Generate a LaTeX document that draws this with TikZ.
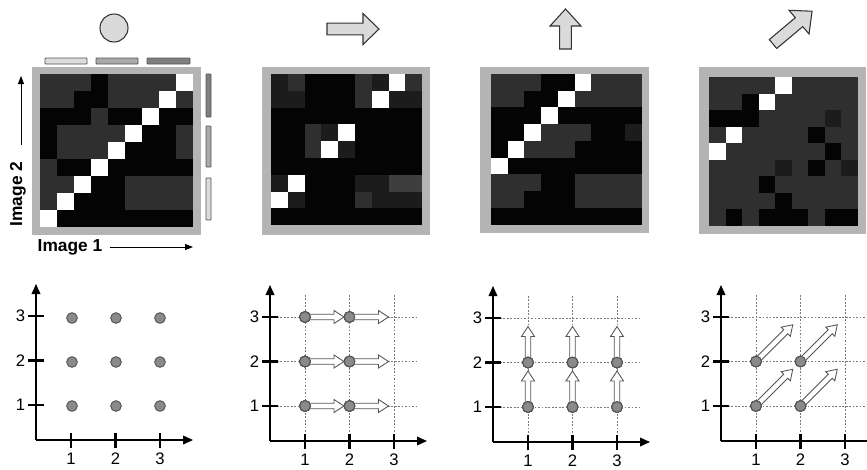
\documentclass[tikz,border=0pt]{standalone}
\usepackage{fontspec}
\setmainfont{Liberation Sans}
\usetikzlibrary{arrows.meta}

% matrix cell shades
\definecolor{mB}{HTML}{040404}
\definecolor{mW}{HTML}{FFFFFF}
\definecolor{mD}{HTML}{2F2F2F}
\definecolor{mK}{HTML}{1C1C1C}
\definecolor{mL}{HTML}{3E3E3E}
\definecolor{framegray}{HTML}{B4B4B4}
\definecolor{iconfill}{HTML}{DADADA}
\definecolor{iconline}{HTML}{333333}
\definecolor{dotfill}{HTML}{8A8A8A}
\definecolor{dotline}{HTML}{555555}
\definecolor{gridgray}{HTML}{7A7A7A}
\definecolor{barlight}{HTML}{DCDCDC}
\definecolor{barmid}{HTML}{A9A9A9}
\definecolor{bardark}{HTML}{7E7E7E}

\tikzset{
  axis/.style={line width=1.1pt, -{Triangle[length=7.5pt,width=6.5pt]}},
  tickmark/.style={line width=1.7pt},
  gridline/.style={gridgray, line width=0.6pt, dash pattern=on 1.3pt off 1.3pt},
  numlab/.style={font=\fontsize{12.5}{14}\selectfont, inner sep=0pt},
  axlabel/.style={font=\fontsize{13}{15}\selectfont\bfseries, inner sep=0pt},
  thinarrow/.style={line width=0.6pt, -{Triangle[length=6pt,width=4.5pt]}},
  dot/.style={circle, fill=dotfill, draw=dotline, line width=0.7pt, minimum size=8pt, inner sep=0pt},
  harrow/.style={draw=dotline, fill=white, line width=0.65pt, line join=miter},
  iconshape/.style={draw=iconline, fill=iconfill, line width=0.8pt, line join=miter},
  bar/.style={draw=dotline, line width=0.6pt, rounded corners=0.6pt},
}

% grid of coloured cells: #1,#2 top-left corner, #3 cell size, #4 rows of shade letters
\newcommand\cellmatrix[4]{%
  \foreach \cellrow [count=\ri from 0] in {#4} {
    \foreach \cellc [count=\ci from 0] in \cellrow {
      \fill[fill=m\cellc] ({#1+\ci*#3},{#2+\ri*#3}) rectangle ++({#3+0.25},{#3+0.25});
    }
  }
}

% hollow outlined arrow starting at a node: #1 node, #2 angle, #3 length
\newcommand\hollowarrow[3]{%
  \begin{scope}[shift={(#1)}, rotate=#2]
    \draw[harrow] (0,-2.8) -- ({#3-10},-2.8) -- ({#3-10},-6.5) -- (#3,0)
      -- ({#3-10},6.5) -- ({#3-10},2.8) -- (0,2.8) -- cycle;
  \end{scope}
}

% filled block arrow: #1 coordinate, #2 angle, #3 length, #4 head length
\newcommand\blockarrow[4]{%
  \begin{scope}[shift={(#1)}, rotate=#2]
    \draw[iconshape] (0,-5.8) -- ({#3-#4},-5.8) -- ({#3-#4},-15.5) -- (#3,0)
      -- ({#3-#4},15.5) -- ({#3-#4},5.8) -- (0,5.8) -- cycle;
  \end{scope}
}

% axes with ticks and numbers: #1 prefix, #2,#3 origin, #4 grid (1) or not (0)
\newcommand\coordplot[4]{%
  \coordinate (#1-o) at (#2,#3);
  \coordinate (#1-xend) at ({#2+157},#3);
  \coordinate (#1-yend) at (#2,{#3-156});
  \ifnum#4=1
    \foreach \dd in {35,79.5,124} {
      \draw[gridline] ({#2+\dd},{#3-146}) -- ({#2+\dd},#3);
      \draw[gridline] (#2,{#3-\dd}) -- ({#2+147},{#3-\dd});
    }
  \fi
  \draw[axis] (#1-o) -- (#1-xend);
  \draw[axis] (#1-o) -- (#1-yend);
  \foreach \k/\dd in {1/35,2/79.5,3/124} {
    \draw[tickmark] ({#2+\dd},{#3-7.5}) -- ({#2+\dd},{#3+7.5});
    \draw[tickmark] ({#2-8},{#3-\dd}) -- ({#2+7.5},{#3-\dd});
    \node[numlab] (#1-xl\k) at ({#2+\dd},{#3+18.5}) {\k};
    \node[numlab] (#1-yl\k) at ({#2-15.5},{#3-\dd}) {\k};
  }
}

\begin{document}
\begin{tikzpicture}[x=0.75pt, y=-0.75pt]
\clip (0,0) rectangle (867,469);
\fill[white] (0,0) rectangle (867,469);

% ---------- matrices ----------
\fill[framegray] (32,67) rectangle (201,235);
\cellmatrix{40}{74}{17}{
  {D,D,D,B,D,D,D,D,W},
  {D,D,B,B,D,D,D,W,D},
  {B,B,B,D,B,B,W,B,B},
  {B,D,D,D,D,W,B,B,D},
  {B,D,D,D,W,B,B,B,D},
  {D,B,B,W,B,B,B,B,B},
  {D,D,W,B,B,D,D,D,D},
  {D,W,B,B,B,D,D,D,D},
  {W,B,B,B,B,B,B,B,B}}

\fill[framegray] (262,67) rectangle (430,235);
\cellmatrix{271}{74}{16.8}{
  {K,D,B,B,B,D,K,W,D},
  {K,K,B,B,B,D,W,K,K},
  {B,B,B,B,B,B,B,B,B},
  {B,B,D,K,W,B,B,B,B},
  {B,B,D,W,K,B,B,B,B},
  {B,B,B,B,B,B,B,B,B},
  {K,W,B,B,B,K,K,L,L},
  {W,K,B,B,B,D,K,K,K},
  {B,B,B,B,B,B,B,B,B}}

\fill[framegray] (480,67) rectangle (649,233);
\cellmatrix{491}{74}{16.7}{
  {D,D,D,B,B,W,D,D,D},
  {D,D,B,B,W,D,D,D,D},
  {B,B,B,W,B,B,B,B,B},
  {B,B,W,D,D,D,B,B,K},
  {B,W,D,D,D,B,B,B,B},
  {W,B,B,B,B,B,B,B,B},
  {D,D,D,B,B,D,D,D,D},
  {D,D,B,B,B,D,D,D,D},
  {B,B,B,B,B,B,B,B,B}}

\fill[framegray] (699,67) rectangle (866,234);
\cellmatrix{709}{77}{16.55}{
  {D,D,D,D,W,D,D,D,D},
  {D,D,B,W,D,D,D,D,D},
  {B,B,B,D,D,D,D,K,D},
  {D,W,D,D,D,D,B,D,D},
  {W,D,D,D,D,D,D,B,D},
  {D,D,D,D,K,D,B,D,K},
  {D,D,D,B,D,D,D,D,D},
  {D,D,D,D,B,D,D,D,D},
  {D,B,D,B,B,B,D,B,B}}

% ---------- bars beside the first matrix ----------
\draw[bar, fill=barlight] (45,58) rectangle (87,64);
\draw[bar, fill=barmid]   (96,58) rectangle (138,64);
\draw[bar, fill=bardark]  (147,58) rectangle (190,64);
\draw[bar, fill=bardark]  (206,74) rectangle (211,117);
\draw[bar, fill=barmid]   (206,126) rectangle (211,167);
\draw[bar, fill=barlight] (206,178) rectangle (211,220);

% ---------- image axis labels ----------
\node[axlabel] (img1) at (70,247) {Image 1};
\coordinate (img1from) at (110,247);
\coordinate (img1to) at (193,247);
\draw[thinarrow] (img1from) -- (img1to);
\node[axlabel, rotate=90] (img2) at (18,194) {Image 2};
\coordinate (img2from) at (21,145);
\coordinate (img2to) at (21,76);
\draw[thinarrow] (img2from) -- (img2to);

% ---------- motion icons ----------
\node[circle, draw=iconline, fill=iconfill, line width=0.8pt, minimum size=21pt, inner sep=0pt] (still) at (114,28) {};
\coordinate (rightstart) at (327,29);
\blockarrow{rightstart}{0}{52}{16}
\coordinate (upstart) at (565.5,49);
\blockarrow{upstart}{90}{40}{17}
\coordinate (diagstart) at (773,44);
\blockarrow{diagstart}{40}{51}{17}

% ---------- coordinate plots ----------
\coordplot{a}{36}{440}{0}
\foreach \i/\xx in {1/72,2/116,3/160}
  \foreach \j/\yy in {1/406,2/362,3/318}
    \node[dot] (a-d\i\j) at (\xx,\yy) {};

\coordplot{b}{270}{441}{1}
\foreach \i/\xx in {1/305,2/349.5}
  \foreach \j/\yy in {1/406,2/361.5,3/317} {
    \node[dot] (b-d\i\j) at (\xx,\yy) {};
  }
\foreach \i in {1,2}
  \foreach \j in {1,2,3}
    \hollowarrow{b-d\i\j}{0}{39}
\foreach \i in {1,2}
  \foreach \j in {1,2,3}
    \node[dot] at (b-d\i\j) {};

\coordplot{c}{493}{442}{1}
\foreach \i/\xx in {1/528,2/572.5,3/617}
  \foreach \j/\yy in {1/407,2/362.5} {
    \node[dot] (c-d\i\j) at (\xx,\yy) {};
  }
\foreach \i in {1,2,3}
  \foreach \j in {1,2}
    \hollowarrow{c-d\i\j}{90}{36}
\foreach \i in {1,2,3}
  \foreach \j in {1,2}
    \node[dot] at (c-d\i\j) {};

\coordplot{d}{721}{441}{1}
\foreach \i/\xx in {1/756,2/800.5}
  \foreach \j/\yy in {1/406,2/361.5} {
    \node[dot] (d-d\i\j) at (\xx,\yy) {};
  }
\foreach \i in {1,2}
  \foreach \j in {1,2}
    \hollowarrow{d-d\i\j}{45}{52}
\foreach \i in {1,2}
  \foreach \j in {1,2}
    \node[dot] at (d-d\i\j) {};

\end{tikzpicture}
\end{document}
